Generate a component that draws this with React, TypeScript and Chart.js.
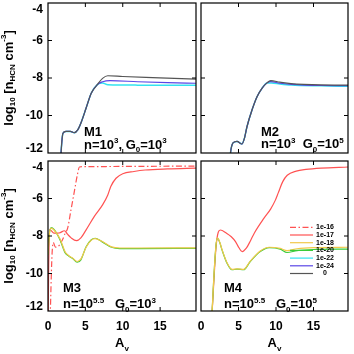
import React, { useEffect, useRef } from "react";
import { Chart, registerables } from "chart.js";
Chart.register(...registerables);

// ---------------- data (A_v, log10 n_HCN) ----------------
// M1 : n=1e3, G0=1e3  (shared rise, then three tails)
const m1BaseAv = [1.7, 1.85, 2.0, 2.4, 3.0, 3.5, 4.0, 4.5, 5.1, 5.8, 6.6];
const m1BaseLog = [-12.3, -11.4, -10.95, -10.85, -10.85, -10.92, -10.75, -10.3, -9.6, -8.8, -8.35];
const m1GrayAv = [7.3, 8.0, 10, 14, 19.8];
const m1GrayLog = [-8.02, -7.88, -7.92, -7.98, -8.06];
const m1BlueAv = [7.3, 8.3, 12, 16, 19.8];
const m1BlueLog = [-8.2, -8.14, -8.2, -8.25, -8.28];
const m1CyanAv = [7.3, 8.0, 12, 19.8];
const m1CyanLog = [-8.27, -8.36, -8.38, -8.39];

// M2 : n=1e3, G0=1e5
const m2BaseAv = [3.85, 4.0, 4.3, 4.8, 5.45, 5.8, 6.13, 6.8, 7.47, 8.13, 8.8];
const m2BaseLog = [-12.3, -11.8, -11.45, -11.38, -11.52, -11.2, -10.6, -9.71, -9.0, -8.55, -8.26];
const m2GrayAv = [9.3, 10.5, 12, 16, 19.6];
const m2GrayLog = [-8.14, -8.22, -8.3, -8.37, -8.38];
const m2BlueAv = [9.3, 10.5, 12, 16, 19.6];
const m2BlueLog = [-8.19, -8.28, -8.34, -8.4, -8.41];
const m2CyanAv = [9.4, 10.5, 12, 16, 19.6];
const m2CyanLog = [-8.26, -8.32, -8.38, -8.42, -8.44];

// M3 : n=10^5.5, G0=1e3
const m3DashAv = [0.25, 0.35, 0.45, 0.55, 0.7, 1.0, 1.5, 2.0, 2.3, 2.63, 3.08, 3.52, 3.97, 4.2, 5, 10, 19.8];
const m3DashLog = [-13, -11.5, -10, -8.9, -8.35, -8.6, -8.5, -8.15, -7.85, -7.58, -6.6, -5.63, -4.66, -4.32, -4.3, -4.29, -4.27];
const m3RedAv = [0.02, 0.08, 0.2, 0.4, 0.8, 1.5, 2.2, 2.6, 3.1, 3.8, 4.4, 5.1, 6.2, 7.3, 8.0, 8.4, 9.1, 10, 11.5, 13, 16, 19.8];
const m3RedLog = [-12.5, -10, -7.65, -7.7, -7.85, -7.84, -7.72, -7.9, -8.1, -8.25, -8.1, -7.67, -6.95, -6.34, -5.81, -5.36, -4.92, -4.68, -4.56, -4.48, -4.42, -4.38];
const m3GreenAv = [0, 0.15, 0.45, 0.8, 1.6, 2.3, 2.8, 3.3, 3.9, 4.4, 5.1, 5.8, 6.3, 7.2, 8.5, 9.6, 12, 19.8];
const m3GreenLog = [-9.0, -8.0, -7.55, -7.65, -8.2, -8.9, -9.08, -9.2, -9.4, -9.27, -8.57, -8.2, -8.12, -8.3, -8.6, -8.67, -8.67, -8.66];
const m3YellowLog = [-9.0, -8.0, -7.58, -7.68, -8.15, -8.85, -9.05, -9.18, -9.36, -9.22, -8.6, -8.22, -8.14, -8.28, -8.58, -8.64, -8.64, -8.63];

// M4 : n=10^5.5, G0=1e5
const m4RedAv = [1.45, 1.7, 2.0, 2.3, 2.57, 3.4, 4.04, 4.6, 4.95, 5.5, 6.04, 6.6, 7.1, 8.4, 9.3, 9.9, 10.3, 10.9, 11.5, 12.7, 14, 16, 19.6];
const m4RedLog = [-12.3, -10.5, -8.6, -7.8, -7.68, -7.85, -8.04, -8.3, -8.55, -8.83, -8.65, -8.25, -7.85, -7.05, -6.55, -6.1, -5.7, -5.1, -4.76, -4.54, -4.45, -4.38, -4.32];
const m4GreenAv = [1.45, 1.7, 2.0, 2.2, 2.5, 2.8, 3.47, 4.13, 4.8, 5.68, 6.57, 7.9, 9.1, 10.57, 11.47, 12.8, 15, 19.6];
const m4GreenLog = [-12.3, -10.3, -8.5, -8.12, -8.35, -8.74, -9.45, -9.8, -9.77, -9.8, -9.36, -8.83, -8.62, -8.7, -8.88, -8.78, -8.72, -8.7];
const m4YellowLog = [-12.3, -10.3, -8.5, -8.1, -8.33, -8.72, -9.43, -9.78, -9.75, -9.78, -9.34, -8.8, -8.6, -8.66, -8.78, -8.68, -8.62, -8.6];

// axes / legend text
const xTickValues = [5, 10, 15];
const xLabelValues = [0, 5, 10, 15];
const yTickValues = [-6, -8, -10];
const yLabelValues = [-4, -6, -8, -10, -12];
const legendLabels = ["1e-16", "1e-17", "1e-18", "1e-20", "1e-22", "1e-24", "0"];

// ---------------- styles ----------------
const FONT = '"Liberation Sans", Arial, Helvetica, sans-serif';
const RED = "#ff5252";
const YELLOW = "#f2c84b";
const GREEN = "#3acb3a";
const CYAN = "#33e3f0";
const BLUE = "#5a46e6";
const GRAY = "#555555";
const DASHDOT = [6, 2.5, 1.5, 2.5];
const legendColors = [RED, RED, YELLOW, GREEN, CYAN, BLUE, GRAY];
const legendDashes = [DASHDOT, [], [], [], [], [], []];

type Part = { t: string; s?: "sup" | "sub" };

function pts(xs: number[], ys: number[]) {
  return xs.map((x, i) => ({ x, y: ys[i] }));
}

function line(data: any[], color: string, dash: number[] = [], width = 1.2) {
  return {
    data,
    borderColor: color,
    borderWidth: width,
    borderDash: dash,
    pointRadius: 0,
    fill: false,
    cubicInterpolationMode: "monotone" as const,
  };
}

function drawRich(ctx: CanvasRenderingContext2D, parts: Part[], x: number, y: number, size: number, align: "left" | "center" = "left") {
  const small = Math.round(size * 0.64);
  const widths = parts.map((p) => {
    ctx.font = `bold ${p.s ? small : size}px ${FONT}`;
    return ctx.measureText(p.t).width;
  });
  const total = widths.reduce((a, b) => a + b, 0);
  let cx = align === "center" ? x - total / 2 : x;
  ctx.textAlign = "left";
  parts.forEach((p, i) => {
    ctx.font = `bold ${p.s ? small : size}px ${FONT}`;
    const dy = p.s === "sup" ? -size * 0.42 : p.s === "sub" ? size * 0.28 : 0;
    ctx.fillText(p.t, cx, y + dy);
    cx += widths[i];
  });
}

type PanelCfg = {
  area: [number, number, number, number]; // left, top, right, bottom
  xMax: number;
  datasets: any[];
  yLabels: boolean;
  xLabels: boolean;
  name: string;
  nameAt: [number, number];
  desc: Part[];
  descAt: [number, number];
  legend?: boolean;
};

const titleParts: Part[] = [
  { t: "log" }, { t: "10", s: "sub" }, { t: " [n" }, { t: "HCN", s: "sub" },
  { t: " cm" }, { t: "-3", s: "sup" }, { t: "]" },
];

const panels: PanelCfg[] = [
  {
    area: [48, 3, 196, 153], xMax: 19.8, yLabels: true, xLabels: false,
    datasets: [
      line(pts([...m1BaseAv, ...m1GrayAv], [...m1BaseLog, ...m1GrayLog]), GRAY),
      line(pts([...m1BaseAv, ...m1BlueAv], [...m1BaseLog, ...m1BlueLog]), BLUE),
      line(pts([...m1BaseAv, ...m1CyanAv], [...m1BaseLog, ...m1CyanLog]), CYAN, [], 1.5),
    ],
    name: "M1", nameAt: [36, -17],
    desc: [{ t: "n=10" }, { t: "3", s: "sup" }, { t: ", G" }, { t: "0", s: "sub" }, { t: "=10" }, { t: "3", s: "sup" }],
    descAt: [36, -4.5],
  },
  {
    area: [201, 3, 348, 153], xMax: 19.6, yLabels: false, xLabels: false,
    datasets: [
      line(pts([...m2BaseAv, ...m2GrayAv], [...m2BaseLog, ...m2GrayLog]), GRAY),
      line(pts([...m2BaseAv, ...m2BlueAv], [...m2BaseLog, ...m2BlueLog]), BLUE),
      line(pts([...m2BaseAv, ...m2CyanAv], [...m2BaseLog, ...m2CyanLog]), CYAN, [], 1.5),
    ],
    name: "M2", nameAt: [60, -17],
    desc: [{ t: "n=10" }, { t: "3", s: "sup" }, { t: "  G" }, { t: "0", s: "sub" }, { t: "=10" }, { t: "5", s: "sup" }],
    descAt: [60, -5],
  },
  {
    area: [48, 161, 196, 311], xMax: 19.8, yLabels: true, xLabels: true,
    datasets: [
      line(pts(m3GreenAv, m3YellowLog), YELLOW),
      line(pts(m3GreenAv, m3GreenLog), GREEN),
      line(pts(m3RedAv, m3RedLog), RED),
      line(pts(m3DashAv, m3DashLog), RED, DASHDOT),
    ],
    name: "M3", nameAt: [15, -19],
    desc: [{ t: "n=10" }, { t: "5.5", s: "sup" }, { t: "   G" }, { t: "0", s: "sub" }, { t: "=10" }, { t: "3", s: "sup" }],
    descAt: [15, -3],
  },
  {
    area: [201, 161, 348, 311], xMax: 19.6, yLabels: false, xLabels: true,
    datasets: [
      line(pts(m4GreenAv, m4YellowLog), YELLOW),
      line(pts(m4GreenAv, m4GreenLog), GREEN),
      line(pts(m4RedAv, m4RedLog), RED),
    ],
    name: "M4", nameAt: [23, -19],
    desc: [{ t: "n=10" }, { t: "5.5", s: "sup" }, { t: "   G" }, { t: "0", s: "sub" }, { t: "=10" }, { t: "5", s: "sup" }],
    descAt: [23, -3],
    legend: true,
  },
];

function makePlugin(cfg: PanelCfg) {
  return {
    id: "panelDecor",
    afterDraw(chart: any) {
      const ctx: CanvasRenderingContext2D = chart.ctx;
      const { left, top, right, bottom } = chart.chartArea;
      const xs = chart.scales.x;
      const ys = chart.scales.y;
      ctx.save();
      ctx.fillStyle = "#000";
      ctx.strokeStyle = "#000";
      ctx.setLineDash([]);
      ctx.lineWidth = 1.2;
      ctx.strokeRect(left, top, right - left, bottom - top);
      // inward ticks
      const TL = 4;
      ctx.lineWidth = 1;
      ctx.beginPath();
      xTickValues.forEach((v) => {
        const px = xs.getPixelForValue(v);
        ctx.moveTo(px, top); ctx.lineTo(px, top + TL);
        ctx.moveTo(px, bottom); ctx.lineTo(px, bottom - TL);
      });
      yTickValues.forEach((v) => {
        const py = ys.getPixelForValue(v);
        ctx.moveTo(left, py); ctx.lineTo(left + TL, py);
        ctx.moveTo(right, py); ctx.lineTo(right - TL, py);
      });
      ctx.stroke();

      // tick labels
      ctx.font = `bold 12px ${FONT}`;
      ctx.textBaseline = "middle";
      if (cfg.yLabels) {
        ctx.textAlign = "right";
        yLabelValues.forEach((v) => {
          let py = ys.getPixelForValue(v);
          if (v === ys.max) py += 6.3;
          if (v === ys.min) py -= 4;
          ctx.fillText(String(v), left - 5, py);
        });
        ctx.save();
        ctx.translate(9, (top + bottom) / 2);
        ctx.rotate(-Math.PI / 2);
        ctx.textBaseline = "middle";
        drawRich(ctx, titleParts, 0, 0, 13, "center");
        ctx.restore();
      }
      if (cfg.xLabels) {
        ctx.font = `bold 12px ${FONT}`;
        ctx.textAlign = "center";
        ctx.textBaseline = "middle";
        xLabelValues.forEach((v) => {
          ctx.fillText(String(v), xs.getPixelForValue(v), bottom + 16);
        });
        ctx.textBaseline = "alphabetic";
        drawRich(ctx, [{ t: "A" }, { t: "v", s: "sub" }], (left + right) / 2, bottom + 36, 13, "center");
      }

      // panel annotation
      ctx.textBaseline = "alphabetic";
      ctx.textAlign = "left";
      ctx.font = `bold 13px ${FONT}`;
      ctx.fillText(cfg.name, left + cfg.nameAt[0], bottom + cfg.nameAt[1]);
      drawRich(ctx, cfg.desc, left + cfg.descAt[0], bottom + cfg.descAt[1], 13);

      // legend
      if (cfg.legend) {
        const y0 = top + 66.3;
        const step = 7.7;
        legendLabels.forEach((lab, i) => {
          const y = y0 + i * step;
          ctx.strokeStyle = legendColors[i];
          ctx.lineWidth = 1.2;
          ctx.setLineDash(legendDashes[i]);
          ctx.beginPath();
          ctx.moveTo(left + 89, y);
          ctx.lineTo(left + 112, y);
          ctx.stroke();
          ctx.setLineDash([]);
          ctx.fillStyle = "#000";
          ctx.font = `bold 7px ${FONT}`;
          ctx.textAlign = "center";
          ctx.textBaseline = "middle";
          ctx.fillText(lab, left + 124, y);
        });
      }
      ctx.restore();
    },
  };
}

export default function App() {
  const refs = [useRef<HTMLCanvasElement>(null), useRef<HTMLCanvasElement>(null), useRef<HTMLCanvasElement>(null), useRef<HTMLCanvasElement>(null)];
  useEffect(() => {
    const charts = panels.map((cfg, i) => {
      const [l, t, r, b] = cfg.area;
      return new Chart(refs[i].current as HTMLCanvasElement, {
        type: "line",
        data: { datasets: cfg.datasets },
        options: {
          animation: false,
          responsive: false,
          maintainAspectRatio: false,
          devicePixelRatio: 1,
          layout: { padding: { left: l, top: t, right: 354 - r, bottom: 354 - b } },
          plugins: { legend: { display: false }, tooltip: { enabled: false } },
          events: [],
          scales: {
            x: { type: "linear", min: 0, max: cfg.xMax, display: false },
            y: { type: "linear", min: -12, max: -4, display: false },
          },
        },
        plugins: [makePlugin(cfg)],
      } as any);
    });
    return () => charts.forEach((c) => c.destroy());
  }, []);
  return (
    <div style={{ position: "absolute", left: 0, top: 0, width: 354, height: 354, background: "#fff" }}>
      {refs.map((r, i) => (
        <canvas key={i} ref={r} width={354} height={354} style={{ position: "absolute", left: 0, top: 0, width: 354, height: 354 }} />
      ))}
    </div>
  );
}
